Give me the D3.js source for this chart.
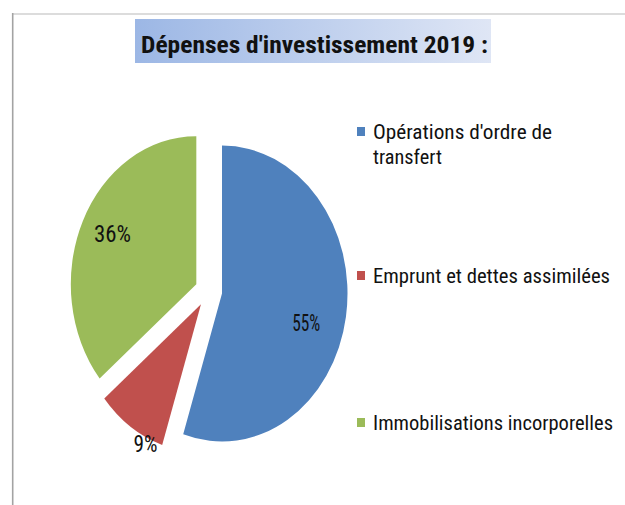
<!DOCTYPE html>
<html>
<head>
<meta charset="utf-8">
<script src="https://cdn.jsdelivr.net/npm/d3@7"></script>
<style>
  html, body { margin: 0; padding: 0; background: #ffffff; }
  svg { display: block; }
</style>
</head>
<body>
<svg id="chart" width="625" height="505"></svg>
<script>
// ---- data ----
const categories = ["Opérations d'ordre de transfert", "Emprunt et dettes assimilées", "Immobilisations incorporelles"];
const values = [55, 9, 36];
const percentLabels = ["55%", "9%", "36%"];
const colors = ["#4F81BD", "#C0504D", "#9BBB59"];
const title = "Dépenses d'investissement 2019 :";
const legendLines = [["Opérations d'ordre de", "transfert"], ["Emprunt et dettes assimilées"], ["Immobilisations incorporelles"]];

// ---- layout (not data) ----
const W = 625, H = 505;
const cx = 208.6, cy = 291, R = 148, xScale = 0.848, explode = 16;
const labelRadius = [0.70, 1.04, 0.75];
const labelNudgeDeg = [7.6, -9, 1.8];
const labelWidths = [28, 24, 37];
const legendX = 357, legendTextX = 373;
const legendBaselines = [139, 283, 430];
const legendLineGap = 25;
const legendWidths = [[179, 69], [237], [240]];
const font = "'Liberation Sans Narrow', 'Roboto Condensed', 'Liberation Sans', Arial, sans-serif";

const svg = d3.select("#chart");

// frame
svg.append("line").attr("x1", 12).attr("x2", W).attr("y1", 14).attr("y2", 14)
  .attr("stroke", "#dcdcdc").attr("stroke-width", 2);
svg.append("line").attr("x1", 12.7).attr("x2", 12.7).attr("y1", 13).attr("y2", H)
  .attr("stroke", "#a3a3a3").attr("stroke-width", 1.6);

// title box gradient
const defs = svg.append("defs");
const grad = defs.append("linearGradient").attr("id", "tg").attr("x1", "0%").attr("x2", "100%").attr("y1", "0%").attr("y2", "0%");
grad.append("stop").attr("offset", "0%").attr("stop-color", "#9CB7E5");
grad.append("stop").attr("offset", "100%").attr("stop-color", "#DFE6F5");
svg.append("rect").attr("x", 135).attr("y", 19).attr("width", 356).attr("height", 44).attr("fill", "url(#tg)");
svg.append("text").attr("x", 141).attr("y", 53)
  .attr("font-family", font).attr("font-weight", "bold").attr("font-size", 23)
  .attr("fill", "#111").attr("textLength", 347).attr("lengthAdjust", "spacingAndGlyphs")
  .text(title);

// pie
const pie = d3.pie().sort(null).value(d => d).startAngle(0).endAngle(2 * Math.PI);
const arcs = pie(values);
const arc = d3.arc().innerRadius(0).outerRadius(R);
const g = svg.append("g").attr("transform", `translate(${cx},${cy}) scale(${xScale},1)`);
const mid = d => (d.startAngle + d.endAngle) / 2;
g.selectAll("path.slice").data(arcs).enter().append("path")
  .attr("class", "slice")
  .attr("d", arc)
  .attr("fill", (d, i) => colors[i])
  .attr("transform", d => `translate(${explode * Math.sin(mid(d))},${-explode * Math.cos(mid(d))})`);

// percentage labels
svg.selectAll("text.pct").data(arcs).enter().append("text")
  .attr("class", "pct")
  .each(function (d, i) {
    const a = mid(d);
    const la = a + labelNudgeDeg[i] * Math.PI / 180;
    const ux = explode * Math.sin(a) + labelRadius[i] * R * Math.sin(la);
    const uy = -explode * Math.cos(a) - labelRadius[i] * R * Math.cos(la);
    const x = cx + ux * xScale, y = cy + uy;
    d3.select(this).attr("x", x - labelWidths[i] / 2).attr("y", y).attr("dy", "0.36em");
  })
  .attr("font-family", font).attr("font-size", 23).attr("fill", "#111")
  .attr("textLength", (d, i) => labelWidths[i]).attr("lengthAdjust", "spacingAndGlyphs")
  .text((d, i) => percentLabels[i]);

// legend
categories.forEach((c, i) => {
  const b = legendBaselines[i];
  svg.append("rect").attr("x", legendX).attr("y", b - 12).attr("width", 8).attr("height", 9).attr("fill", colors[i]);
  legendLines[i].forEach((ln, j) => {
    svg.append("text").attr("x", legendTextX).attr("y", b + j * legendLineGap)
      .attr("font-family", font).attr("font-size", 20).attr("fill", "#111")
      .attr("textLength", legendWidths[i][j]).attr("lengthAdjust", "spacingAndGlyphs")
      .text(ln);
  });
});
</script>
</body>
</html>
